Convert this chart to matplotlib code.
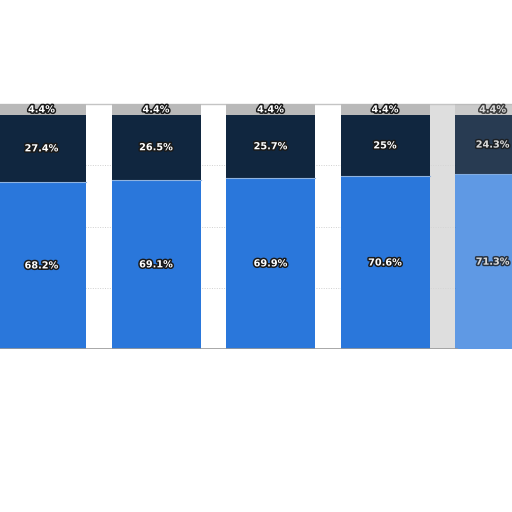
import numpy as np
import matplotlib
matplotlib.use('Agg')
import matplotlib.pyplot as plt
import matplotlib.patheffects as pe

# shares in percent, bottom to top
blue_vals = [68.2, 69.1, 69.9, 70.6, 71.3]
navy_vals = [27.4, 26.5, 25.7, 25.0, 24.3]
gray_vals = [4.4, 4.4, 4.4, 4.4, 4.4]
blue_lbl = ['68.2%', '69.1%', '69.9%', '70.6%', '71.3%']
navy_lbl = ['27.4%', '26.5%', '25.7%', '25%', '24.3%']
gray_lbl = ['4.4%', '4.4%', '4.4%', '4.4%', '4.4%']

c_blue = '#2a77db'
c_navy = '#10263f'
c_gray = '#b9b9b9'

fig = plt.figure(figsize=(5.12, 5.12), dpi=100)
ax = fig.add_axes([0, 163/512, 1, 245/512])
x = np.arange(len(blue_vals))
w = 89/114.5
ax.set_xlim(-41.5/114.5, (512-41.5)/114.5)
ax.set_ylim(0, 100)
for s in ax.spines.values():
    s.set_visible(False)
ax.set_xticks([]); ax.set_yticks([])

for gl in [25, 50, 75]:
    ax.axhline(gl, xmax=0.893, color='#d0d0d0', lw=0.7, ls=(0, (1, 1.5)), zorder=0)
ax.axhline(0, xmax=0.893, color='#9a9a9a', lw=1.2, zorder=3)
ax.axhline(100, color='#c4c4c4', lw=1.0, zorder=1, clip_on=False)

# blurred strip between last two bars
ax.axvspan(x[3]+w/2, x[4]-w/2, color='#d6d6d6', alpha=0.8, lw=0, zorder=0)

b = np.array(blue_vals); n = np.array(navy_vals); g = np.array(gray_vals)
alphas = [1, 1, 1, 1, 0.75]
for i in x:
    a = alphas[i]
    ax.bar(i, b[i], w, color=c_blue, alpha=a, zorder=2, edgecolor='none')
    ax.bar(i, n[i], w, bottom=b[i], color=c_navy, alpha=min(1, a+0.15), zorder=2, edgecolor='none')
    ax.bar(i, g[i], w, bottom=b[i]+n[i], color=c_gray, alpha=a, zorder=2, edgecolor='none')
    ax.plot([i-w/2, i+w/2], [b[i], b[i]], color='#8fb3e0', lw=0.8, zorder=3, alpha=a)

fx = [pe.withStroke(linewidth=2.2, foreground='#1a1a1a')]
for i in x:
    xt = i - 0.06 if i == 4 else i   # keep the cut-off last labels inside the frame
    kw = dict(ha='center', va='center', color='white', fontsize=7, fontweight='bold',
              path_effects=fx, zorder=5, alpha=0.8 if i == 4 else 1)
    ax.text(xt, b[i]/2, blue_lbl[i], **kw)
    ax.text(xt, b[i]+n[i]/2, navy_lbl[i], **kw)
    ax.text(xt, b[i]+n[i]+g[i]/2, gray_lbl[i], **kw)

fig.savefig('out.png', dpi=100)
